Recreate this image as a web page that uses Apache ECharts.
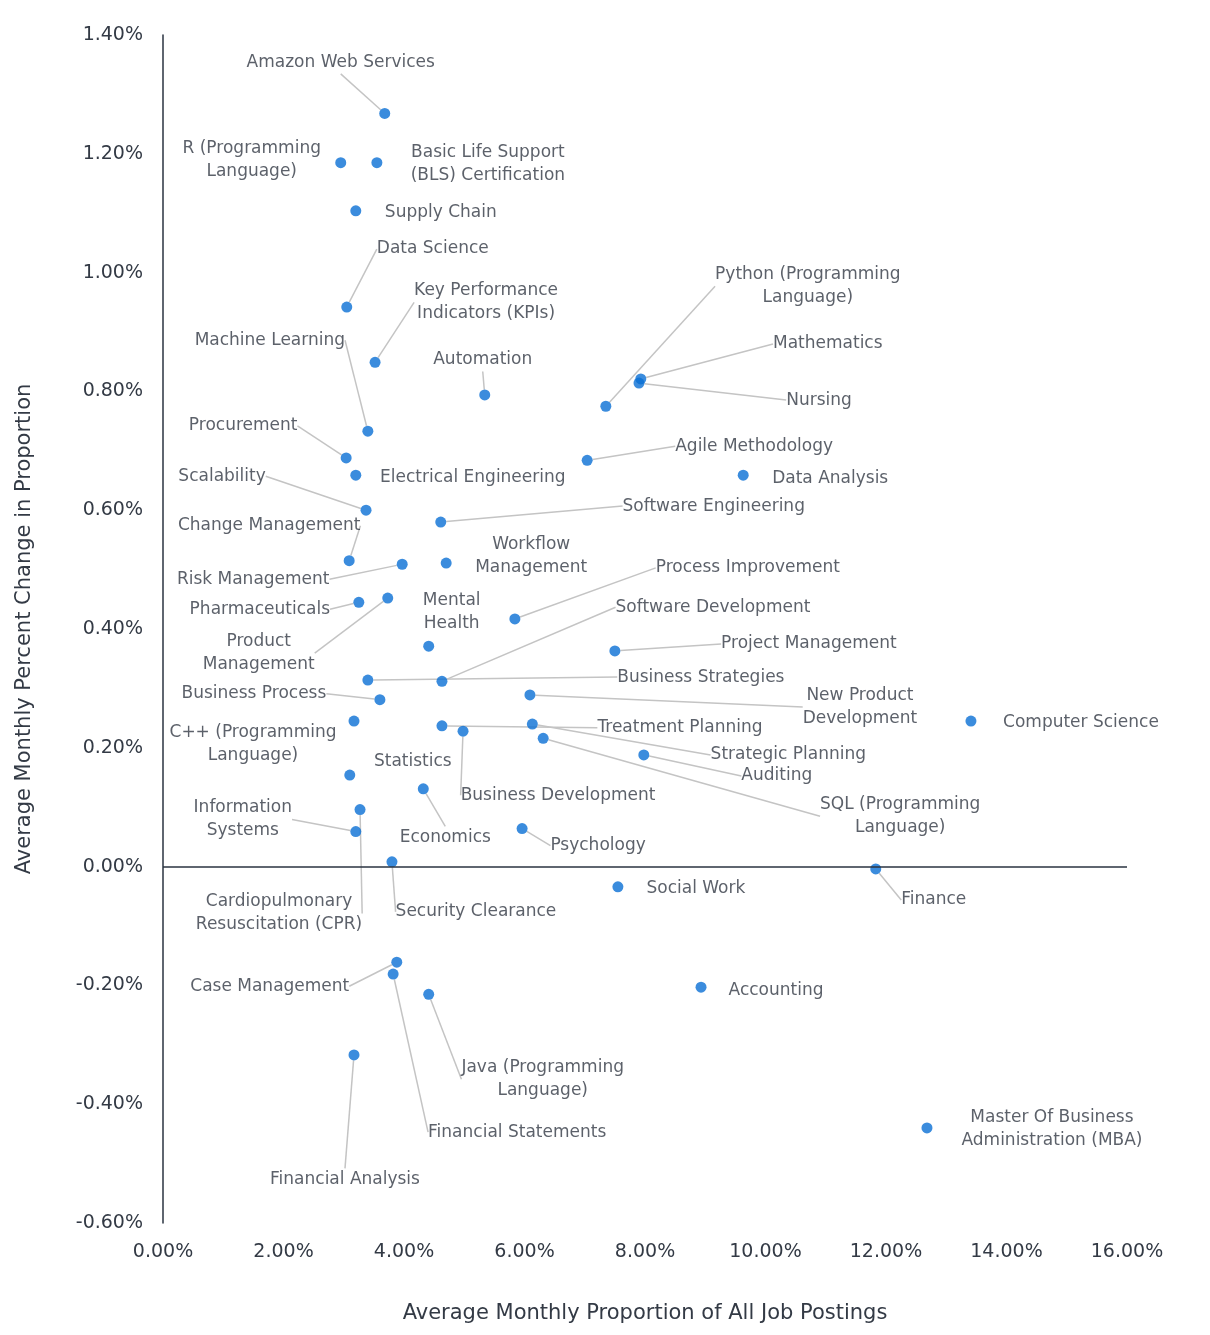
<!DOCTYPE html>
<html lang="en">
<head>
<meta charset="UTF-8">
<title>Skills scatter</title>
<script src="https://cdn.jsdelivr.net/npm/echarts@6/dist/echarts.min.js"></script>
<style>
  html, body { margin: 0; padding: 0; background: #fff; }
  #chart { width: 1210px; height: 1335px; }
</style>
</head>
<body>
<div id="chart"></div>
<script>
// skill names, x = average monthly proportion (%), y = average monthly percent change (%)
var names = [
  'Amazon Web Services', 'R (Programming\nLanguage)', 'Basic Life Support\n(BLS) Certification', 'Supply Chain',
  'Data Science', 'Key Performance\nIndicators (KPIs)', 'Automation', 'Python (Programming\nLanguage)',
  'Mathematics', 'Nursing', 'Machine Learning', 'Procurement', 'Electrical Engineering',
  'Agile Methodology', 'Data Analysis', 'Scalability', 'Software Engineering', 'Change Management',
  'Workflow\nManagement', 'Risk Management', 'Process Improvement', 'Pharmaceuticals',
  'Product\nManagement', 'Mental\nHealth', 'Software Development', 'Project Management',
  'Business Strategies', 'Business Process', 'New Product\nDevelopment', 'Computer Science',
  'C++ (Programming\nLanguage)', 'Treatment Planning', 'Business Development', 'Strategic Planning',
  'Auditing', 'SQL (Programming\nLanguage)', 'Statistics', 'Economics',
  'Cardiopulmonary\nResuscitation (CPR)', 'Information\nSystems', 'Psychology', 'Security Clearance',
  'Social Work', 'Finance', 'Case Management', 'Financial Statements',
  'Java (Programming\nLanguage)', 'Accounting', 'Financial Analysis', 'Master Of Business\nAdministration (MBA)'
];
var xs = [3.68, 2.95, 3.55, 3.20, 3.05, 3.52, 5.34, 7.35, 7.93, 7.90, 3.40, 3.04, 3.20, 7.04, 9.63,
  3.37, 4.61, 3.09, 4.70, 3.97, 5.84, 3.25, 3.73, 4.41, 4.63, 7.50, 3.40, 3.60, 6.09, 13.41,
  3.17, 4.63, 4.98, 6.13, 7.98, 6.31, 3.10, 4.32, 3.27, 3.20, 5.96, 3.80, 7.55, 11.83, 3.88,
  3.82, 4.41, 8.93, 3.17, 12.68];
var ys = [1.268, 1.185, 1.185, 1.104, 0.942, 0.849, 0.794, 0.775, 0.821, 0.814, 0.733, 0.688, 0.659,
  0.684, 0.659, 0.600, 0.580, 0.515, 0.511, 0.509, 0.417, 0.445, 0.452, 0.371, 0.312, 0.363,
  0.314, 0.281, 0.289, 0.245, 0.245, 0.237, 0.228, 0.240, 0.188, 0.216, 0.154, 0.131, 0.096,
  0.059, 0.064, 0.008, -0.034, -0.004, -0.161, -0.181, -0.215, -0.203, -0.317, -0.440];

// label centre offset from its point, in pixels, and whether a leader line is drawn
var labelOffsets = [
  [-44, -51], [-89, -3], [111, 1], [85, 2], [86, -58], [111, -60], [-2, -35], [202, -120],
  [187, -35], [180, 17], [-98, -91], [-103, -32], [117, 2], [167, -14], [87, 3], [-144, -34],
  [273, -16], [-80, -35], [85, -7], [-149, 15], [233, -51], [-99, 7], [-129, 55], [23, -34],
  [271, -74], [194, -7], [333, -3], [-126, -6], [330, 12], [110, 2], [-101, 23], [238, 2],
  [95, 64], [256, 31], [133, 21], [357, 78], [63, -14], [22, 49], [-81, 104], [-113, -12],
  [76, 17], [84, 50], [78, 2], [58, 31], [-127, 24], [124, 158], [114, 85], [75, 3],
  [-9, 125], [125, 1]
];
var leader = [1, 0, 0, 0, 1, 1, 1, 1, 1, 1, 1, 1, 0, 1, 0, 1, 1, 1, 0, 1, 1, 1, 1, 0, 1, 1, 1, 1,
  1, 0, 0, 1, 1, 1, 1, 1, 0, 1, 1, 1, 1, 1, 0, 1, 1, 1, 1, 0, 1, 0];

var textColor = '#333a45';
var font = 'DejaVu Sans';

var points = names.map(function(n, i) {
  return {
    name: n,
    value: [xs[i], ys[i]],
    labelLine: { show: !!leader[i] }
  };
});

var chart = echarts.init(document.getElementById('chart'));
chart.setOption({
  animation: false,
  grid: { left: 163, right: 83, top: 35, bottom: 112 },
  xAxis: {
    type: 'value', min: 0, max: 16, interval: 2,
    name: 'Average Monthly Proportion of All Job Postings',
    nameLocation: 'middle', nameGap: 80,
    nameTextStyle: { fontFamily: font, fontSize: 21, color: textColor },
    axisLine: { show: false, onZero: false },
    axisTick: { show: false },
    splitLine: { show: false },
    axisLabel: {
      margin: 20, fontFamily: font, fontSize: 19, color: textColor,
      formatter: function(v) { return v.toFixed(2) + '%'; }
    }
  },
  yAxis: {
    type: 'value', min: -0.6, max: 1.4, interval: 0.2,
    name: 'Average Monthly Percent Change in Proportion',
    nameLocation: 'middle', nameGap: 128,
    nameTextStyle: { fontFamily: font, fontSize: 21, color: textColor },
    axisLine: { show: true, onZero: false, lineStyle: { color: '#2a3340', width: 1.5 } },
    axisTick: { show: false },
    splitLine: { show: false },
    axisLabel: {
      margin: 20, fontFamily: font, fontSize: 19, color: textColor,
      formatter: function(v) { return v.toFixed(2) + '%'; }
    }
  },
  series: [{
    type: 'scatter',
    symbolSize: 11,
    itemStyle: { color: '#0a6fd4' },
    data: points,
    label: {
      show: true, position: 'inside',
      formatter: '{b}',
      fontFamily: font, fontSize: 17, color: textColor,
      align: 'center', verticalAlign: 'middle', lineHeight: 23
    },
    labelLine: { lineStyle: { color: '#c4c4c4', width: 1.5 } },
    labelLayout: function(p) {
      var o = labelOffsets[p.dataIndex];
      return { dx: o[0], dy: o[1] };
    },
    markLine: {
      silent: true, symbol: 'none', label: { show: false },
      lineStyle: { color: '#2a3340', width: 1.5, type: 'solid' },
      data: [{ yAxis: 0 }]
    }
  }]
});
</script>
</body>
</html>
